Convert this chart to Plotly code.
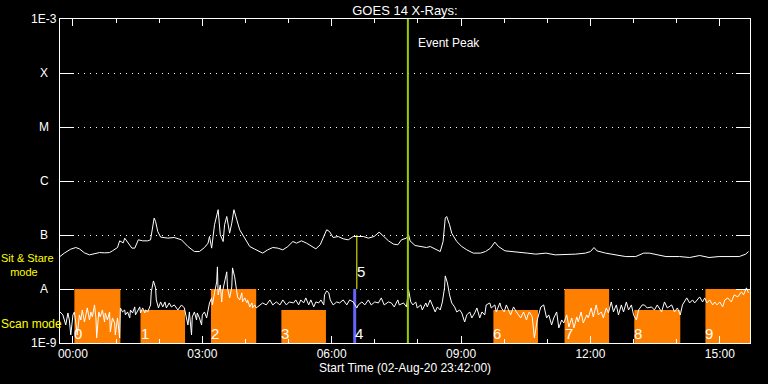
import numpy as np
import pandas as pd
import plotly.graph_objects as go

# ---------------- data ----------------
START = pd.Timestamp("2020-08-02 23:42:00")

# long channel (upper curve): minutes after start, flux W/m^2
upper_min = [0, 6, 15, 22, 27, 34, 41, 48, 55, 62,
             69, 73, 80, 83, 88, 90, 94, 100, 104, 109,
             115, 122, 126, 129, 131, 133, 136, 140, 150, 159,
             169, 178, 187, 194, 201, 206, 208, 211, 215, 220,
             223, 227, 229, 232, 236, 239, 242, 246, 250, 257,
             264, 271, 278, 282, 289, 296, 303, 310, 317, 324,
             329, 336, 343, 350, 356, 362, 366, 371, 375, 380,
             387, 394, 401, 408, 415, 422, 429, 437, 444, 450,
             457, 464, 470, 475, 482, 485, 487, 494, 503, 510,
             515, 522, 529, 533, 536, 538, 542, 545, 552, 559,
             566, 575, 585, 592, 599, 605, 610, 619, 629, 638,
             650, 662, 676, 689, 703, 717, 731, 738, 743, 747,
             759, 773, 787, 801, 812, 820, 830, 843, 862, 876,
             890, 903, 917, 931, 945, 954, 958]
upper_flux = [4.0e-8, 4.62e-8, 5.47e-8, 5.86e-8, 5.54e-8, 4.67e-8, 4.29e-8, 4.48e-8, 4.73e-8, 4.67e-8,
              4.73e-8, 5.09e-8, 5.86e-8, 7.80e-8, 7.16e-8, 8.75e-8, 7.38e-8, 5.71e-8, 5.71e-8, 8.14e-8,
              7.80e-8, 7.80e-8, 8.14e-8, 1.44e-7, 2.06e-7, 1.78e-7, 1.16e-7, 9.14e-8, 8.75e-8, 8.99e-8,
              8.14e-8, 6.12e-8, 4.94e-8, 4.94e-8, 5.86e-8, 7.07e-8, 9.38e-8, 5.71e-8, 1.55e-7, 2.94e-7,
              1.01e-7, 7.57e-8, 1.55e-7, 2.20e-7, 1.08e-7, 1.66e-7, 2.94e-7, 1.91e-7, 1.25e-7, 8.75e-8,
              6.12e-8, 5.47e-8, 4.94e-8, 4.62e-8, 5.31e-8, 5.86e-8, 5.71e-8, 5.31e-8, 6.12e-8, 7.57e-8,
              7.07e-8, 7.80e-8, 7.07e-8, 6.12e-8, 5.54e-8, 6.58e-8, 8.75e-8, 1.25e-7, 1.16e-7, 8.99e-8,
              9.38e-8, 8.50e-8, 8.14e-8, 9.38e-8, 9.38e-8, 9.38e-8, 8.75e-8, 9.38e-8, 1.13e-7, 9.38e-8,
              7.80e-8, 6.78e-8, 6.58e-8, 8.14e-8, 8.75e-8, 1.01e-7, 7.80e-8, 6.39e-8, 6.12e-8, 5.86e-8,
              6.12e-8, 5.54e-8, 4.94e-8, 7.57e-8, 2.06e-7, 2.20e-7, 1.55e-7, 1.08e-7, 7.57e-8, 6.12e-8,
              5.31e-8, 4.62e-8, 4.62e-8, 4.94e-8, 5.71e-8, 7.38e-8, 6.12e-8, 5.09e-8, 4.94e-8, 4.94e-8,
              4.62e-8, 4.42e-8, 4.62e-8, 4.29e-8, 4.29e-8, 4.42e-8, 4.62e-8, 4.94e-8, 5.86e-8, 5.09e-8,
              4.62e-8, 4.29e-8, 3.99e-8, 3.99e-8, 4.62e-8, 4.62e-8, 4.29e-8, 3.99e-8, 3.99e-8, 3.83e-8,
              4.17e-8, 3.83e-8, 3.99e-8, 3.99e-8, 3.99e-8, 4.42e-8, 4.94e-8]

# short channel (lower curve): minutes after start, flux W/m^2
lower_min = [0, 4, 8, 11, 13, 15, 18, 20, 22, 24,
             27, 29, 31, 34, 36, 38, 41, 43, 45, 48,
             50, 51, 54, 56, 59, 62, 63, 66, 69, 70,
             73, 76, 77, 80, 83, 84, 87, 90, 91, 94,
             97, 98, 101, 104, 105, 108, 111, 112, 115, 118,
             119, 122, 126, 127, 130, 133, 134, 137, 140, 143,
             146, 148, 152, 155, 159, 164, 169, 173, 176, 178,
             180, 183, 184, 187, 190, 191, 194, 197, 198, 201,
             204, 205, 208, 211, 212, 215, 218, 219, 220, 223,
             225, 226, 229, 232, 233, 236, 239, 240, 243, 246,
             247, 250, 253, 254, 257, 260, 261, 264, 267, 268,
             271, 273, 278, 282, 287, 292, 296, 301, 306, 310,
             315, 319, 325, 328, 332, 335, 339, 342, 346, 349,
             353, 356, 360, 363, 367, 368, 371, 374, 376, 380,
             385, 389, 394, 399, 403, 408, 413, 415, 420, 424,
             429, 433, 438, 443, 447, 451, 457, 461, 465, 470,
             472, 478, 482, 485, 488, 491, 495, 497, 502, 504,
             509, 511, 515, 518, 522, 525, 529, 532, 535, 536,
             539, 542, 545, 549, 552, 556, 559, 563, 566, 570,
             573, 577, 580, 584, 587, 591, 593, 598, 600, 605,
             607, 612, 614, 618, 621, 627, 631, 635, 641, 645,
             649, 651, 653, 657, 660, 664, 669, 673, 677, 680,
             684, 687, 691, 694, 698, 701, 705, 708, 712, 715,
             719, 721, 725, 728, 733, 735, 739, 742, 746, 749,
             753, 756, 760, 763, 767, 770, 774, 777, 781, 784,
             788, 791, 795, 798, 802, 805, 810, 813, 817, 823,
             827, 831, 837, 841, 845, 851, 855, 859, 863, 866,
             869, 872, 876, 880, 883, 886, 890, 894, 897, 900,
             904, 908, 911, 914, 918, 922, 925, 929, 934, 938,
             943, 948, 951, 955, 958]
lower_flux = [3.76e-9, 3.31e-9, 2.16e-9, 3.60e-9, 2.67e-9, 1.41e-9, 3.31e-9, 3.76e-9, 2.35e-9, 1.41e-9,
              3.31e-9, 2.67e-9, 4.09e-9, 2.45e-9, 3.31e-9, 4.46e-9, 2.67e-9, 3.76e-9, 3.04e-9, 5.07e-9,
              2.91e-9, 1.24e-9, 3.76e-9, 3.04e-9, 4.09e-9, 2.45e-9, 3.60e-9, 2.67e-9, 3.76e-9, 1.60e-9,
              2.91e-9, 2.35e-9, 1.41e-9, 2.91e-9, 1.24e-9, 4.46e-9, 3.76e-9, 4.09e-9, 3.31e-9, 3.76e-9,
              2.91e-9, 4.09e-9, 3.60e-9, 4.66e-9, 3.31e-9, 4.09e-9, 4.66e-9, 3.60e-9, 4.46e-9, 3.60e-9,
              4.09e-9, 3.76e-9, 5.07e-9, 8.84e-9, 1.41e-8, 1.05e-8, 6.28e-9, 4.46e-9, 5.76e-9, 4.66e-9,
              5.76e-9, 4.46e-9, 5.52e-9, 4.66e-9, 5.07e-9, 4.09e-9, 5.07e-9, 4.46e-9, 2.91e-9, 2.16e-9,
              3.76e-9, 1.41e-9, 3.04e-9, 3.76e-9, 2.67e-9, 3.60e-9, 2.91e-9, 2.16e-9, 3.31e-9, 3.76e-9,
              2.91e-9, 3.60e-9, 5.52e-9, 6.84e-9, 5.07e-9, 8.47e-9, 1.35e-8, 2.57e-8, 7.78e-9, 1.19e-8,
              5.76e-9, 8.84e-9, 1.47e-8, 2.08e-8, 1.05e-8, 6.84e-9, 1.09e-8, 2.46e-8, 1.68e-8, 8.84e-9,
              7.13e-9, 6.28e-9, 8.47e-9, 5.76e-9, 6.84e-9, 5.52e-9, 6.28e-9, 4.66e-9, 5.52e-9, 4.46e-9,
              5.07e-9, 4.46e-9, 5.07e-9, 5.52e-9, 5.07e-9, 6.28e-9, 5.07e-9, 5.76e-9, 5.07e-9, 6.28e-9,
              5.07e-9, 5.76e-9, 5.52e-9, 6.28e-9, 5.07e-9, 6.28e-9, 5.52e-9, 6.84e-9, 5.07e-9, 6.28e-9,
              4.66e-9, 5.76e-9, 5.52e-9, 6.28e-9, 5.07e-9, 7.78e-9, 9.22e-9, 8.47e-9, 6.28e-9, 5.07e-9,
              5.76e-9, 5.52e-9, 6.28e-9, 5.07e-9, 6.28e-9, 5.76e-9, 4.46e-9, 5.07e-9, 5.76e-9, 5.07e-9,
              6.28e-9, 5.07e-9, 5.76e-9, 5.52e-9, 6.84e-9, 5.07e-9, 5.76e-9, 5.52e-9, 4.66e-9, 6.28e-9,
              5.07e-9, 5.52e-9, 4.66e-9, 9.62e-9, 5.76e-9, 5.07e-9, 5.76e-9, 4.46e-9, 5.07e-9, 4.09e-9,
              5.52e-9, 4.66e-9, 6.28e-9, 5.07e-9, 3.76e-9, 4.66e-9, 4.09e-9, 5.76e-9, 1.05e-8, 1.75e-8,
              1.30e-8, 7.78e-9, 5.52e-9, 4.66e-9, 3.76e-9, 4.09e-9, 3.60e-9, 2.45e-9, 3.31e-9, 3.76e-9,
              2.91e-9, 3.60e-9, 4.46e-9, 2.91e-9, 3.76e-9, 3.31e-9, 5.07e-9, 5.52e-9, 4.46e-9, 5.07e-9,
              3.76e-9, 5.52e-9, 4.46e-9, 3.76e-9, 5.07e-9, 3.31e-9, 4.66e-9, 3.76e-9, 2.91e-9, 3.76e-9,
              2.67e-9, 3.31e-9, 3.76e-9, 3.04e-9, 1.24e-9, 2.67e-9, 4.66e-9, 5.07e-9, 2.91e-9, 3.31e-9,
              2.16e-9, 2.91e-9, 3.76e-9, 1.90e-9, 2.67e-9, 2.35e-9, 3.31e-9, 1.98e-9, 2.91e-9, 1.90e-9,
              3.04e-9, 2.45e-9, 3.76e-9, 2.35e-9, 3.31e-9, 2.91e-9, 4.46e-9, 3.04e-9, 5.07e-9, 3.31e-9,
              3.76e-9, 2.91e-9, 4.46e-9, 3.60e-9, 5.76e-9, 3.76e-9, 5.07e-9, 3.31e-9, 5.07e-9, 3.76e-9,
              5.76e-9, 4.09e-9, 5.07e-9, 3.31e-9, 2.67e-9, 4.09e-9, 5.07e-9, 5.07e-9, 4.46e-9, 4.66e-9,
              4.09e-9, 5.07e-9, 3.76e-9, 5.76e-9, 4.46e-9, 5.07e-9, 3.76e-9, 4.46e-9, 3.31e-9, 5.07e-9,
              5.76e-9, 6.84e-9, 5.52e-9, 6.28e-9, 5.52e-9, 6.28e-9, 7.13e-9, 5.76e-9, 6.84e-9, 5.52e-9,
              6.28e-9, 5.07e-9, 5.76e-9, 5.07e-9, 5.76e-9, 4.66e-9, 6.28e-9, 6.84e-9, 5.76e-9, 7.78e-9,
              7.13e-9, 8.84e-9, 7.78e-9, 1.05e-8, 8.47e-9]

# scan-mode blocks (minutes after start), top level and label
scan_start = [20, 112, 210, 308, 603, 702, 799, 898]
scan_end = [84, 174, 273, 370, 665, 764, 863, 960]
scan_top = [1.0e-8, 4.1e-9, 1.0e-8, 4.1e-9, 4.1e-9, 1.0e-8, 4.1e-9, 1.0e-8]
scan_label = ["0", "1", "2", "3", "6", "7", "8", "9"]

# sit & stare markers
mark4_min, mark4_lo, mark4_hi = 410, 1e-9, 1e-8
mark5_min, mark5_lo, mark5_hi = 413, 1e-8, 1e-7
event_peak_min = 484

goes_levels = [-3, -4, -5, -6, -7, -8, -9]
goes_names = ["1E-3", "X", "M", "C", "B", "A", "1E-9"]

# ---------------- styling ----------------
ORANGE = "#FF8000"
BLUE = "#6464FF"
YELLOW = "#FFFF00"
GREEN = "#99CC00"
WHITE = "#FFFFFF"
FONT = "Liberation Sans"


def t(m):
    return START + pd.to_timedelta(np.asarray(m, dtype=float), unit="m")


fig = go.Figure()

for s, e, top in zip(scan_start, scan_end, scan_top):
    fig.add_trace(go.Scatter(x=t([s, s, e, e, s]), y=[1e-9, top, top, 1e-9, 1e-9],
                             mode="lines", fill="toself", fillcolor=ORANGE,
                             line=dict(width=0, color=ORANGE), hoverinfo="skip",
                             showlegend=False))

fig.add_trace(go.Scatter(x=t([mark4_min, mark4_min]), y=[mark4_lo, mark4_hi], mode="lines",
                         line=dict(color=BLUE, width=3), showlegend=False))

fig.add_trace(go.Scatter(x=t(upper_min), y=upper_flux, mode="lines",
                         line=dict(color=WHITE, width=1), showlegend=False))
fig.add_trace(go.Scatter(x=t(lower_min), y=lower_flux, mode="lines",
                         line=dict(color=WHITE, width=1), showlegend=False))

fig.add_trace(go.Scatter(x=t([mark5_min, mark5_min]), y=[mark5_lo, mark5_hi], mode="lines",
                         line=dict(color=YELLOW, width=1), showlegend=False))
fig.add_trace(go.Scatter(x=t([event_peak_min, event_peak_min]), y=[1e-9, 1e-3], mode="lines",
                         line=dict(color=GREEN, width=2), showlegend=False))

ann = []
for txt, lv in zip(goes_names, goes_levels):
    ann.append(dict(text=txt, xref="paper", x=0, xshift=-16, xanchor="center",
                    yref="y", y=lv, yanchor="middle", showarrow=False,
                    font=dict(color=WHITE, size=12, family=FONT)))

for s, lab in zip(scan_start, scan_label):
    ann.append(dict(text=lab, x=t([s])[0], xanchor="left", xshift=-2,
                    yref="y", y=np.log10(1.5e-9), yanchor="middle", showarrow=False,
                    font=dict(color=WHITE, size=15, family=FONT)))
ann.append(dict(text="4", x=t([mark4_min])[0], xanchor="left", xshift=-2,
                yref="y", y=np.log10(1.5e-9), yanchor="middle", showarrow=False,
                font=dict(color=WHITE, size=15, family=FONT)))
ann.append(dict(text="5", x=t([mark5_min])[0], xanchor="left", xshift=-2,
                yref="y", y=np.log10(2.1e-8), yanchor="middle", showarrow=False,
                font=dict(color=WHITE, size=15, family=FONT)))

ann.append(dict(text="Event Peak", x=t([event_peak_min])[0], xanchor="left", xshift=8,
                yref="paper", y=0.926, yanchor="middle", showarrow=False,
                font=dict(color=WHITE, size=12, family=FONT)))

ann.append(dict(text="Sit & Stare<br>&nbsp;&nbsp;&nbsp;mode", xref="paper", x=0, xanchor="left",
                xshift=-61, align="left",
                yref="paper", y=0.2407, yanchor="middle", showarrow=False,
                font=dict(color=YELLOW, size=11, family=FONT)))
ann.append(dict(text="Scan mode", xref="paper", x=0, xanchor="left", xshift=-61,
                yref="paper", y=0.0586, yanchor="middle", showarrow=False,
                font=dict(color=YELLOW, size=12, family=FONT)))

ann.append(dict(text="Start Time (02-Aug-20 23:42:00)", xref="paper", x=0.5, xanchor="center",
                yref="paper", y=-0.077, yanchor="middle", showarrow=False,
                font=dict(color=WHITE, size=12, family=FONT)))

fig.update_layout(
    width=768, height=384,
    margin=dict(l=60, r=18, t=19, b=41),
    paper_bgcolor="black", plot_bgcolor="black",
    showlegend=False,
    title=dict(text="GOES 14 X-Rays:", x=0.5, xref="paper", y=1 - 10 / 384,
               yref="container", yanchor="middle", xanchor="center",
               font=dict(color=WHITE, size=13, family=FONT)),
    annotations=ann,
    xaxis=dict(type="date", range=[START, START + pd.Timedelta(hours=16)],
               showgrid=False, zeroline=False, showline=True, linecolor=WHITE, linewidth=1,
               mirror="ticks", ticks="inside", ticklen=7, tickcolor=WHITE, tickwidth=1,
               tick0="2020-08-03 00:00", dtick=3 * 3600 * 1000, tickformat="%H:%M",
               tickfont=dict(color=WHITE, size=12, family=FONT),
               minor=dict(ticks="inside", ticklen=4, tickcolor=WHITE, tickwidth=1,
                          dtick=3600 * 1000, tick0="2020-08-03 00:00", showgrid=False)),
    yaxis=dict(type="log", range=[-9, -3], showline=True, linecolor=WHITE, linewidth=1,
               mirror="ticks", ticks="inside", ticklen=14, tickcolor=WHITE, tickwidth=1,
               tickvals=[1e-8, 1e-7, 1e-6, 1e-5, 1e-4], showticklabels=False,
               showgrid=True, gridcolor=WHITE, gridwidth=1, griddash="1px,5px",
               zeroline=False),
)

fig.write_html("out.html")
